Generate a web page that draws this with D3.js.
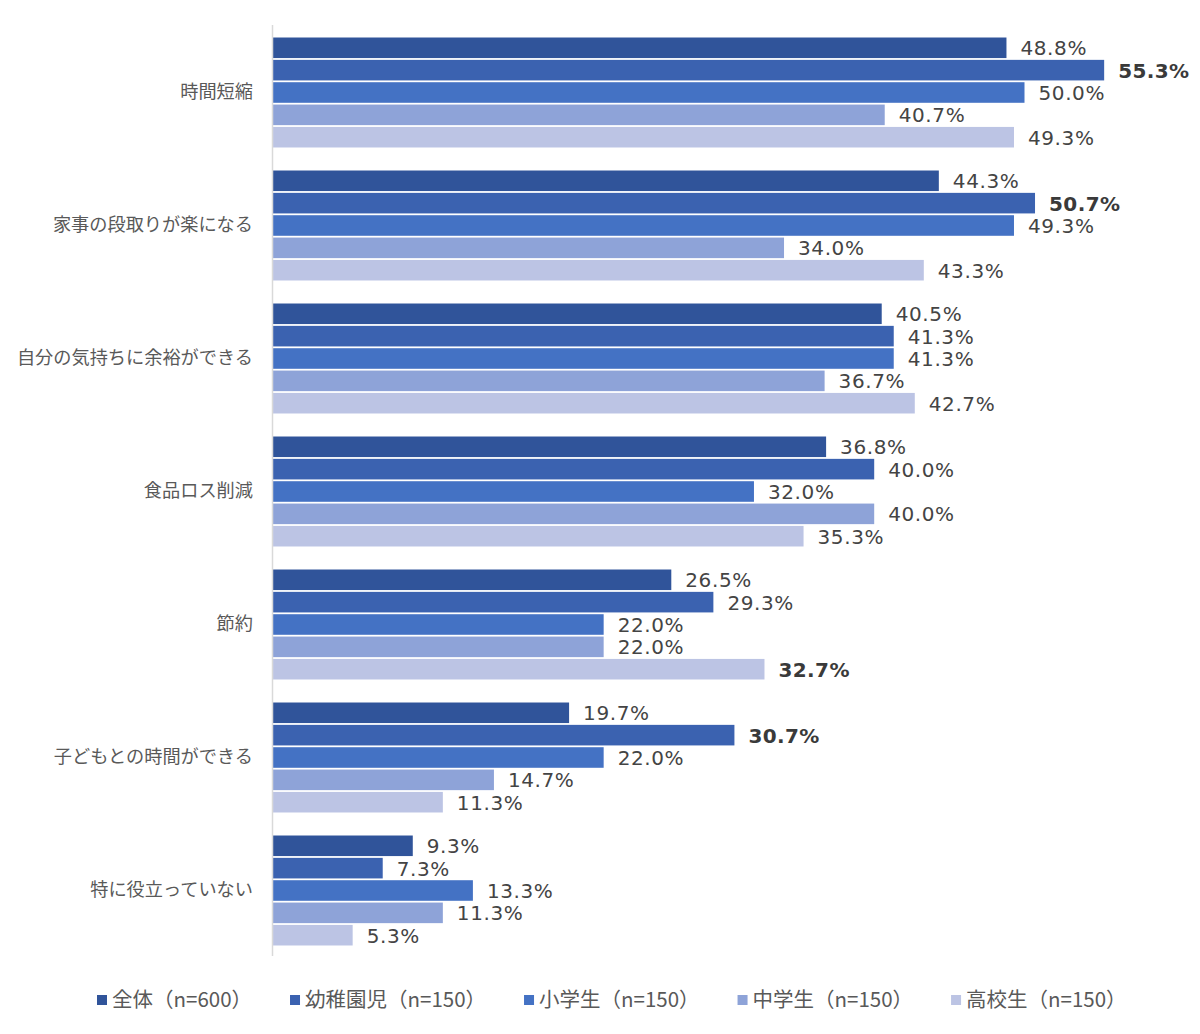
<!DOCTYPE html>
<html><head><meta charset="utf-8">
<script src="https://cdn.jsdelivr.net/npm/d3@7"></script>
<style>body{margin:0;background:#fff}</style>
</head><body>
<svg id="c" width="1200" height="1034"></svg>
<script>
const categories = ["時間短縮","家事の段取りが楽になる","自分の気持ちに余裕ができる","食品ロス削減","節約","子どもとの時間ができる","特に役立っていない"];
const seriesNames = ["全体（n=600）","幼稚園児（n=150）","小学生（n=150）","中学生（n=150）","高校生（n=150）"];
const zentai   = [48.8,44.3,40.5,36.8,26.5,19.7,9.3];
const yochien  = [55.3,50.7,41.3,40.0,29.3,30.7,7.3];
const shogaku  = [50.0,49.3,41.3,32.0,22.0,22.0,13.3];
const chugaku  = [40.7,34.0,36.7,40.0,22.0,14.7,11.3];
const koko     = [49.3,43.3,42.7,35.3,32.7,11.3,5.3];
const seriesValues = [zentai,yochien,shogaku,chugaku,koko];
// highlighted (bold) label: [category index, series index]
const boldLabels = [[0,1],[1,1],[4,4],[5,1]];
const colors = ["#30549a","#3b62b0","#4472c4","#8ea3d8","#bcc4e4"];

const svg = d3.select("#c");
const x0 = 273;
const x = d3.scaleLinear().domain([0,60]).range([x0, x0+60*15.03]);
const y = d3.scaleBand().domain(categories).range([26,957]).paddingInner(0.173).paddingOuter(0.0865);
const ySub = d3.scaleBand().domain(d3.range(5)).range([0,y.bandwidth()]).paddingInner(0.08);
const jp = "'Noto Sans CJK JP','DejaVu Sans',sans-serif";
const num = "'DejaVu Sans','Noto Sans CJK JP',sans-serif";

categories.forEach((c,ci)=>{
  const g = svg.append("g").attr("transform",`translate(0,${y(c)})`);
  seriesValues.forEach((s,si)=>{
    g.append("rect").attr("x",x(0)).attr("y",ySub(si))
      .attr("width",x(s[ci])-x(0)).attr("height",ySub.bandwidth())
      .attr("fill",colors[si]);
  });
  seriesValues.forEach((s,si)=>{
    const bold = boldLabels.some(b=>b[0]===ci && b[1]===si);
    g.append("text").attr("x",x(s[ci])+14).attr("y",ySub(si)+ySub.bandwidth()/2+2)
      .attr("dominant-baseline","middle")
      .attr("font-family",num).attr("font-size",20)
      .attr("letter-spacing",bold?0.4:0.6)
      .attr("font-weight",bold?"bold":"normal")
      .attr("fill",bold?"#3a3a3a":"#444")
      .text(s[ci].toFixed(1)+"%");
  });
  svg.append("text").attr("x",253).attr("y",y(c)+y.bandwidth()/2+1)
    .attr("text-anchor","end").attr("dominant-baseline","middle")
    .attr("font-family",jp).attr("font-size",18.2).attr("fill","#595959").text(c);
});
svg.append("line").attr("x1",x0-0.5).attr("x2",x0-0.5).attr("y1",25).attr("y2",956)
  .attr("stroke","#d9d9d9").attr("stroke-width",1.5);

// legend
const lg = svg.append("g");
let cx = 97;
seriesNames.forEach((n,i)=>{
  lg.append("rect").attr("x",cx).attr("y",995).attr("width",10).attr("height",10).attr("fill",colors[i]);
  const t = lg.append("text").attr("x",cx+15).attr("y",1001).attr("dominant-baseline","middle")
    .attr("font-family",jp).attr("font-size",20.5).attr("fill","#595959").text(n);
  cx += 15 + t.node().getComputedTextLength() + 38;
});
</script>
</body></html>
